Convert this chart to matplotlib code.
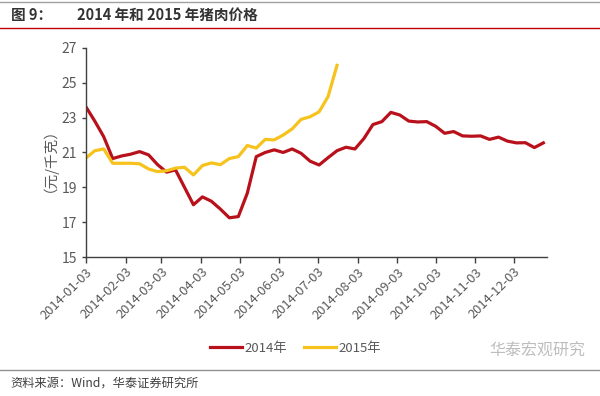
import matplotlib
matplotlib.use("Agg")
import matplotlib.pyplot as plt
import matplotlib.dates as mdates
from matplotlib.lines import Line2D
import datetime as dt

plt.rcParams['font.family'] = ['Noto Sans CJK SC', 'DejaVu Sans']

# weekly pork prices (yuan/kg), 2015 drawn on the 2014 calendar
start = dt.date(2014, 1, 3)
price_2014 = [23.63, 22.8, 21.9, 20.65, 20.8, 20.9, 21.05, 20.86, 20.3, 19.87,
              20.0, 19.0, 18.0, 18.45, 18.2, 17.75, 17.25, 17.32, 18.66, 20.76,
              21.0, 21.15, 21.0, 21.2, 20.95, 20.5, 20.28, 20.7, 21.1, 21.3,
              21.2, 21.8, 22.6, 22.77, 23.3, 23.15, 22.8, 22.75, 22.77, 22.5,
              22.1, 22.2, 21.95, 21.93, 21.95, 21.75, 21.88, 21.65, 21.55, 21.56,
              21.28, 21.55]
price_2015 = [20.67, 21.1, 21.2, 20.38, 20.38, 20.38, 20.35, 20.05, 19.9, 19.95,
              20.1, 20.15, 19.71, 20.25, 20.4, 20.3, 20.65, 20.76, 21.4, 21.25,
              21.75, 21.72, 22.0, 22.35, 22.9, 23.05, 23.33, 24.2, 26.0]
dates_2014 = [start + dt.timedelta(weeks=i) for i in range(len(price_2014))]
dates_2015 = dates_2014[:len(price_2015)]
xticks = [dt.date(2014, m, 3) for m in range(1, 13)]
yticks = [15, 17, 19, 21, 23, 25, 27]

red = '#B8111B'
yellow = '#F6C21C'
grey = '#595959'

fig = plt.figure(figsize=(6, 3.96), dpi=100)
ax = fig.add_axes([0.143, 0.351, 0.769, 0.528])

ax.plot(dates_2014, price_2014, color=red, lw=2.3, label='2014年')
ax.plot(dates_2015, price_2015, color=yellow, lw=2.3, label='2015年')

ax.set_ylim(15, 27)
ax.set_yticks(yticks)
ax.set_xlim(start, dt.date(2014, 12, 29))
ax.set_xticks(xticks)
ax.xaxis.set_major_formatter(mdates.DateFormatter('%Y-%m-%d'))
for lab in ax.get_xticklabels():
    lab.set_rotation(45)
    lab.set_ha('right')
    lab.set_rotation_mode('anchor')
ax.tick_params(axis='x', labelsize=9.3, colors=grey, length=4, width=1, pad=2)
ax.tick_params(axis='y', labelsize=10, colors=grey, length=3, width=1)
ax.tick_params(axis='both', color='#404040')
for s in ['top', 'right']:
    ax.spines[s].set_visible(False)
for s in ['left', 'bottom']:
    ax.spines[s].set_color('#404040')
    ax.spines[s].set_linewidth(1)
ax.set_ylabel('（元/千克）', color=grey, fontsize=10.5, labelpad=8)

ax.legend(loc='center', bbox_to_anchor=(0.493, 0.121), bbox_transform=fig.transFigure,
          ncol=2, frameon=False, fontsize=9.5, labelcolor=grey, handlelength=2.4,
          handletextpad=0.2, columnspacing=1.3)

# header / footer decoration
fig.add_artist(Line2D([0, 1], [0.996, 0.996], color='#A0A0A0', lw=1))
fig.add_artist(Line2D([0, 1], [0.929, 0.929], color='#C00000', lw=1))
fig.add_artist(Line2D([0, 1], [0.065, 0.065], color='#909090', lw=1))
fig.text(0.018, 0.963, '图 9：', fontsize=10.5, fontweight='bold', color='#333333', va='center')
fig.text(0.128, 0.963, '2014 年和 2015 年猪肉价格', fontsize=10.5, fontweight='bold',
         color='#333333', va='center')
fig.text(0.018, 0.032, '资料来源：Wind，华泰证券研究所', fontsize=8.8, style='italic',
         color='#404040', va='center')
fig.text(0.975, 0.112, '华泰宏观研究', fontsize=11.5, color='#BDBDBD', ha='right', va='center')

fig.savefig('out.png', dpi=100)
